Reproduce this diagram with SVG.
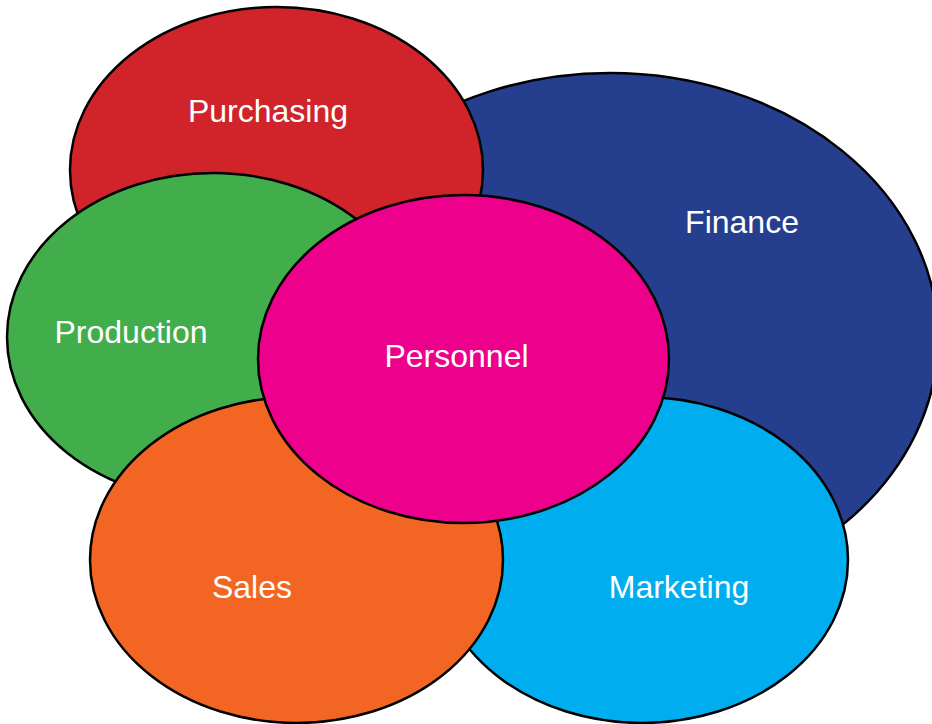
<svg xmlns="http://www.w3.org/2000/svg" width="932" height="724" viewBox="0 0 932 724">
<style>
.n{stroke:#000;stroke-width:2.5}
.t{font-family:"Liberation Sans",Arial,sans-serif;font-size:32px;fill:#fff;text-anchor:middle}
</style>
<rect width="932" height="724" fill="#fff"/>
<g id="finance"><ellipse class="n" cx="610" cy="338" rx="328" ry="265" fill="#253F8E"/></g>
<g id="purchasing"><ellipse class="n" cx="276.5" cy="170" rx="206.5" ry="163" fill="#D0232A"/></g>
<g id="production"><ellipse class="n" cx="213" cy="337" rx="206" ry="164" fill="#41AD4B"/></g>
<g id="marketing"><ellipse class="n" cx="642" cy="560" rx="206" ry="163" fill="#00AEEF"/></g>
<g id="sales"><ellipse class="n" cx="296.5" cy="560" rx="206.5" ry="163" fill="#F26522"/></g>
<g id="personnel"><ellipse class="n" cx="463.5" cy="359" rx="205.5" ry="164" fill="#EC008C"/></g>
<g id="connectors"></g>
<g id="labels">
<text class="t" x="268" y="122">Purchasing</text>
<text class="t" x="742" y="233">Finance</text>
<text class="t" x="131" y="343">Production</text>
<text class="t" x="456.5" y="367">Personnel</text>
<text class="t" x="252" y="598">Sales</text>
<text class="t" x="679" y="598">Marketing</text>
</g>
</svg>
